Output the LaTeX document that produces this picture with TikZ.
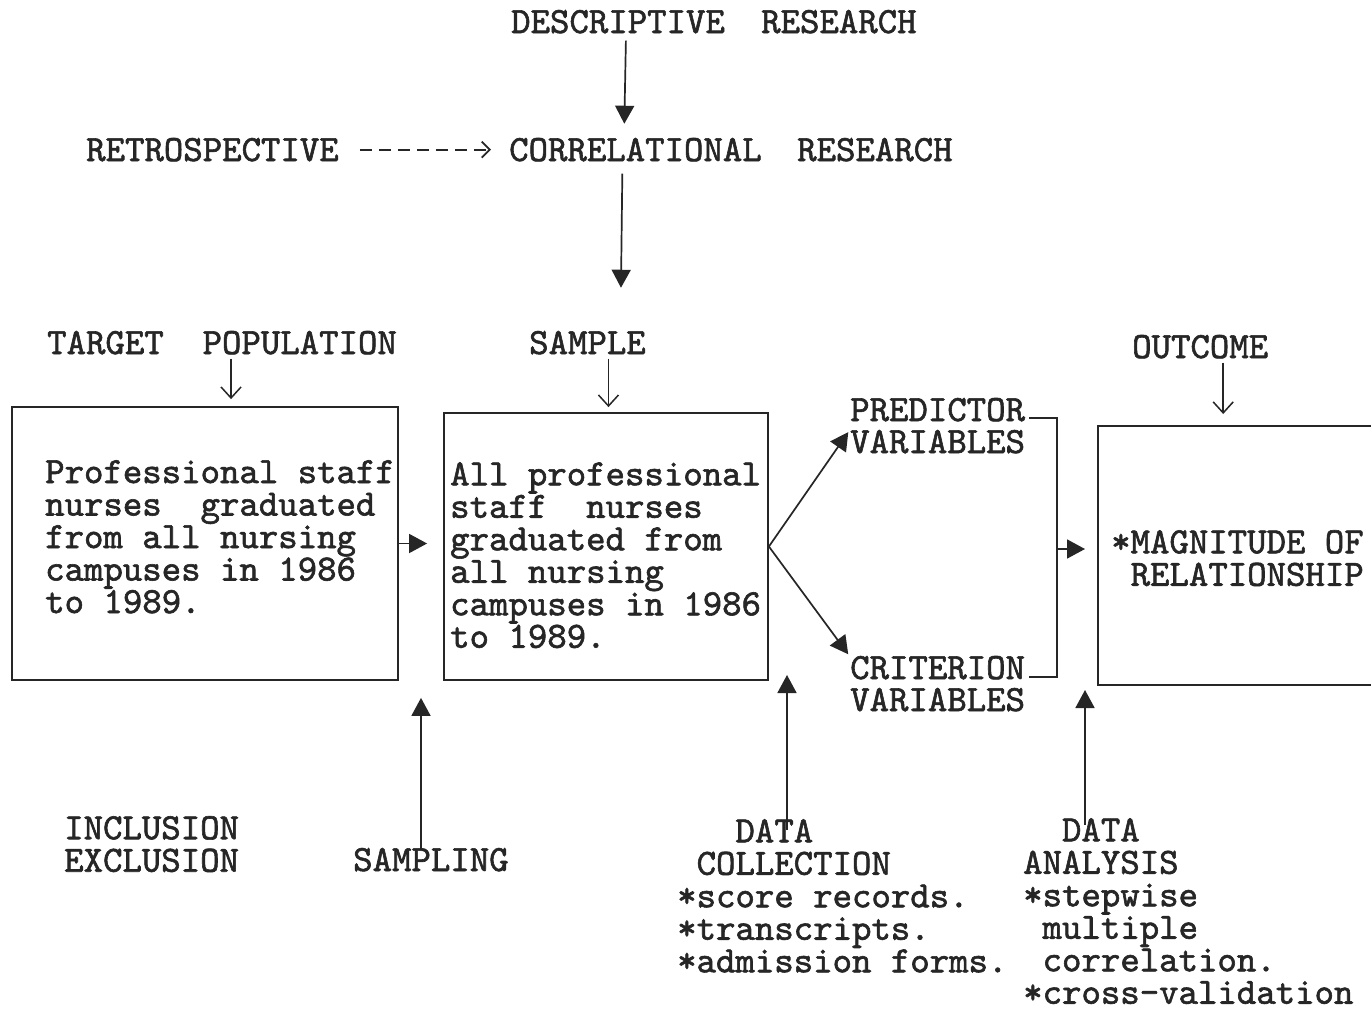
\documentclass[tikz,border=0pt]{standalone}
\usepackage{fontspec}
\newfontfamily\twfont{lmmono10-regular}[Extension=.otf, FakeBold=1.6]
\usetikzlibrary{arrows.meta,calc}
\begin{document}
\begin{tikzpicture}[x=1pt,y=-1pt,
  lbl/.style={inner sep=0pt, text=black!85, font=\twfont\fontsize{37.0}{32.5}\selectfont},
  sl/.style={lbl, anchor=base west},
  ml/.style={lbl, anchor=north west, align=left},
  boxx/.style={draw=black!85, line width=1.8pt, inner sep=0pt},
  farr/.style={draw=black!85, line width=1.7pt, -{Triangle[length=18pt,width=19pt]}},
  oarr/.style={draw=black!85, line width=1.5pt, -{Straight Barb[length=11pt,width=20pt]}},
  darr/.style={draw=black!85, line width=1.8pt, dash pattern=on 12pt off 7pt, -{Straight Barb[length=8pt,width=16pt]}},
  brk/.style={draw=black!85, line width=1.7pt}
]
\useasboundingbox[fill=white] (0,0) rectangle (1371,1009);

% top labels
\node[sl] (descA) at (511,33) {DESCRIPTIVE};
\node[sl] (descB) at (761,33) {RESEARCH};
\node[sl] (retro) at (86,161) {RETROSPECTIVE};
\node[sl] (corrA) at (509,161) {CORRELATIONAL};
\node[sl] (corrB) at (797,161) {RESEARCH};

\node[sl] (target) at (47,354) {TARGET~~POPULATION};
\node[sl] (sample) at (529,354) {SAMPLE};
\node[sl] (outcome) at (1132,358) {OUTCOME};

% boxes
\node[boxx, minimum width=386pt, minimum height=273pt] (b1) at (205,543.5) {};
\node[boxx, minimum width=324pt, minimum height=267pt] (b2) at (606,546.5) {};
\node[boxx, minimum width=300pt, minimum height=259pt, anchor=north west] (b3) at (1097,425) {};

\node[ml] (t1) at (45,460) {Professional staff\\nurses~~graduated\\from all nursing\\campuses in 1986\\to 1989.};
\node[ml] (t2) at (450,462) {All professional\\staff~~nurses\\graduated from\\all nursing\\campuses in 1986\\to 1989.};
\node[ml] (t3) at (1111,530) {*MAGNITUDE OF\\\hphantom{*}RELATIONSHIP};

% variables
\node[sl] (predA) at (850,421) {PREDICTOR};
\node[sl] (predB) at (850,453) {VARIABLES};
\node[sl] (critA) at (850,679) {CRITERION};
\node[sl] (critB) at (850,711) {VARIABLES};

% bottom labels
\node[ml] (incl) at (64,816) {INCLUSION\\EXCLUSION};
\node[sl] (samp) at (353,871) {SAMPLING};
\node[ml] (dc) at (677,819) {\hphantom{xxx}DATA\\\hphantom{x}COLLECTION\\*score records.\\*transcripts.\\*admission forms.};
\node[ml] (da) at (1023,818) {\hphantom{xx}DATA\\ANALYSIS\\*stepwise\\\hphantom{*}multiple\\\hphantom{*}correlation.\\*cross-validation};

% helper coordinates
\coordinate (m1) at ($(b1.south east)!0.5!(b2.south west)$);
\coordinate (m2) at (787,675);
\coordinate (m3) at (1085,690);
\coordinate (bk) at (1057,549);

% top connectors
\draw[farr, shorten <=7pt, shorten >=14pt] ($(descA.south)+(8,0)$) -- ($(descA.south |- corrA.north)+(6,0)$);
\draw[darr, shorten <=21pt, shorten >=18pt] (retro.east) -- (retro.east -| corrA.west);
\draw[farr, shorten <=12pt, shorten >=43pt] ($(corrA.south)+(-13,0)$) -- ($(corrA.south |- sample.north)+(-15,0)$);

% small open arrows into boxes
\draw[oarr, shorten <=4pt, shorten >=7pt] ($(target.south)+(9,0)$) -- ($(target.south |- b1.north)+(9,0)$);
\draw[oarr, shorten <=4pt, shorten >=5pt] ($(sample.south)+(21,0)$) -- ($(sample.south |- b2.north)+(21,0)$);
\draw[oarr, shorten <=4pt, shorten >=11pt] ($(outcome.south)+(23,0)$) -- ($(outcome.south |- b3.north)+(23,0)$);

% box connectors
\draw[farr, shorten >=16pt] (b1.east) -- (b1.east -| b2.west);
\draw[farr, shorten >=3pt] (b2.east) -- ($(predB.west)+(0,-12)$);
\draw[farr, shorten >=3pt] (b2.east) -- ($(critA.west)+(0,-11)$);

% bracket
\draw[brk] ($(predA.base east)+(4,-3)$) -| (bk) |- ($(critA.base east)+(4,-2)$);
\draw[farr, shorten >=12pt] (bk) -- (bk -| b3.west);

% up arrows from bottom
\draw[farr, shorten <=-1pt, shorten >=17pt] (samp.north -| m1) -- (m1);
\draw[farr, shorten <=-11pt, shorten >=0pt] (dc.north -| m2) -- (m2);
\draw[farr, shorten <=-7pt, shorten >=0pt] (da.north -| m3) -- (m3);
\end{tikzpicture}
\end{document}
